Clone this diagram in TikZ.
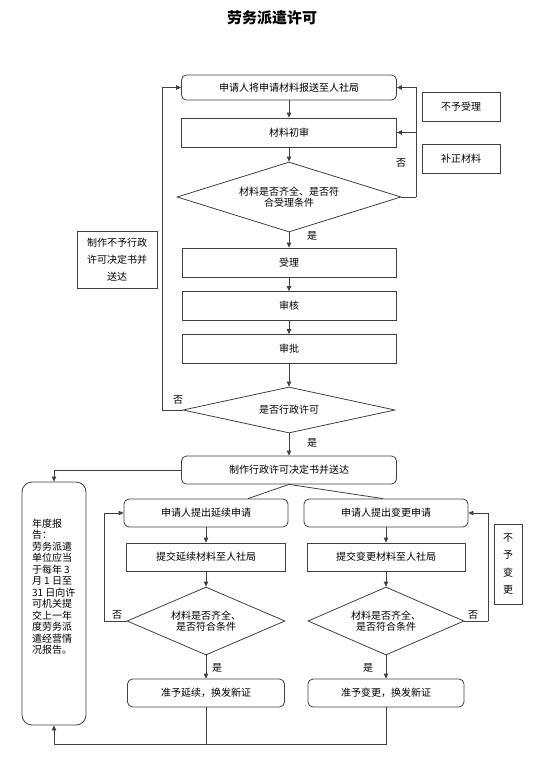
\documentclass[tikz,border=0pt]{standalone}
\usepackage{fontspec}
\setmainfont{Noto Sans CJK SC}
\usepackage{tikz}
\usetikzlibrary{shapes.geometric, arrows.meta, positioning}

\begin{document}
\begin{tikzpicture}
  [
    x=1pt, y=-1pt,
    >={Triangle[length=5pt, width=4.5pt]},
    line width=0.8pt, draw=black!75,
    Box/.style={rectangle, draw=black!75, line width=0.8pt, inner sep=0pt, font=\fontsize{10}{12}\selectfont, align=center},
    RBox/.style={Box, rounded corners=5pt},
    Test/.style={diamond, draw=black!75, line width=0.8pt, inner sep=0pt, aspect=3, font=\fontsize{10}{11}\selectfont, align=center},
    Tag/.style={font=\fontsize{10}{12}\selectfont, inner sep=0pt}
  ]
  \useasboundingbox (0,0) rectangle (553,769);
  % Title
  \node[font=\fontsize{15}{18}\selectfont\bfseries] (title) at (272,18) {劳务派遣许可};
  % Nodes
  \node[RBox, minimum width=215, minimum height=25] (apply) at (289,87.5) {申请人将申请材料报送至人社局};
  \node[Box, minimum width=215, minimum height=29] (check) at (289,132.5) {材料初审};
  \node[Test, minimum width=224, minimum height=70] (full) at (289,197) {材料是否齐全、是否符\\合受理条件};
  \node[Box, minimum width=78, minimum height=29] (refuse) at (461,106.5) {不予受理};
  \node[Box, minimum width=78, minimum height=29] (amend) at (461,158.5) {补正材料};
  \node[Box, minimum width=214, minimum height=29] (accept) at (289,262.5) {受理};
  \node[Box, minimum width=214, minimum height=29] (review) at (289,306) {审核};
  \node[Box, minimum width=214, minimum height=29] (approve) at (289,349) {审批};
  \node[Test, minimum width=212, minimum height=46] (permit) at (289,410) {是否行政许可};
  \node[Box, minimum width=80, minimum height=57, font=\fontsize{10}{17}\selectfont] (deny) at (117,259.5) {制作不予行政\\许可决定书并\\送达};
  \node[RBox, minimum width=215, minimum height=28] (issue) at (289,470) {制作行政许可决定书并送达};
  \node[Box, rounded corners=10pt, minimum width=64, minimum height=243,
    label={[Tag, anchor=north west, align=left, xshift=10pt, yshift=-37pt, font=\fontsize{10}{11.5}\selectfont]north west:{年度报\\告：\\劳务派遣\\单位应当\\于每年 3\\月 1 日至\\31 日向许\\可机关提\\交上一年\\度劳务派\\遣经营情\\况报告。}}] (annual) at (54,603.5) {};
  % left branch
  \node[RBox, minimum width=164, minimum height=28] (extreq) at (206,513) {申请人提出延续申请};
  \node[Box, minimum width=159, minimum height=28] (extsub) at (206,557) {提交延续材料至人社局};
  \node[Test, minimum width=158, minimum height=68] (extok) at (206,621) {材料是否齐全、\\是否符合条件};
  \node[RBox, minimum width=157, minimum height=28] (extnew) at (206,693) {准予延续，换发新证};
  % right branch
  \node[RBox, minimum width=164, minimum height=28] (chgreq) at (386,513) {申请人提出变更申请};
  \node[Box, minimum width=158, minimum height=28] (chgsub) at (386,557) {提交变更材料至人社局};
  \node[Test, minimum width=156, minimum height=68] (chgok) at (386,621) {材料是否齐全、\\是否符合条件};
  \node[RBox, minimum width=156, minimum height=28] (chgnew) at (386,693) {准予变更，换发新证};
  \node[Box, minimum width=28, minimum height=80, font=\fontsize{10}{17.5}\selectfont] (nochg) at (508,564) {不\\予\\变\\更};
  % Labels
  \node[Tag] (no1) at (401,163) {否};
  \node[Tag] (yes1) at (312,236) {是};
  \node[Tag] (no2) at (178,400) {否};
  \node[Tag] (yes2) at (312,443) {是};
  \node[Tag] (no3) at (117,615) {否};
  \node[Tag] (yes3) at (217,668) {是};
  \node[Tag] (no4) at (473,615) {否};
  \node[Tag] (yes4) at (368,668) {是};
  % Corners
  \coordinate (r1) at (416,197);
  \coordinate (l1) at (162,410);
  \coordinate (l2) at (104,621);
  \coordinate (r2) at (488,621);
  \coordinate (bl) at (54,744);
  % Lines
  \path [->, draw] (apply) -- (check);
  \path [->, draw] (check) -- (full);
  \path [->, draw] (full) -- (accept);
  \path [->, draw] (accept) -- (review);
  \path [->, draw] (review) -- (approve);
  \path [->, draw] (approve) -- (permit);
  \path [->, draw] (permit) -- (issue);
  \path [draw] (full.east) -- (r1);
  \path [->, draw] (r1) |- (apply.east);
  \path [->, draw] (r1) |- (check.east);
  \path [draw] (permit.west) -- (l1);
  \path [->, draw] (l1) |- (apply.west);
  \path [->, draw] (issue.west) -| (annual.north);
  \path [draw] (issue.south) -- ([xshift=42pt]extreq.north);
  \path [draw] (issue.south) -- ([xshift=-3pt]chgreq.north);
  \path [->, draw] (extreq) -- (extsub);
  \path [->, draw] (extsub) -- (extok);
  \path [->, draw] (extok) -- (extnew);
  \path [draw] (extok.west) -- (l2);
  \path [->, draw] (l2) |- (extreq.west);
  \path [->, draw] (chgreq) -- (chgsub);
  \path [->, draw] (chgsub) -- (chgok);
  \path [->, draw] (chgok) -- (chgnew);
  \path [draw] (chgok.east) -- (r2);
  \path [->, draw] (r2) |- (chgreq.east);
  \path [->, draw] (chgnew.south) |- (bl) -- (annual.south);
  \path [draw] (extnew.south) -- (extnew.south |- bl);
\end{tikzpicture}
\end{document}
